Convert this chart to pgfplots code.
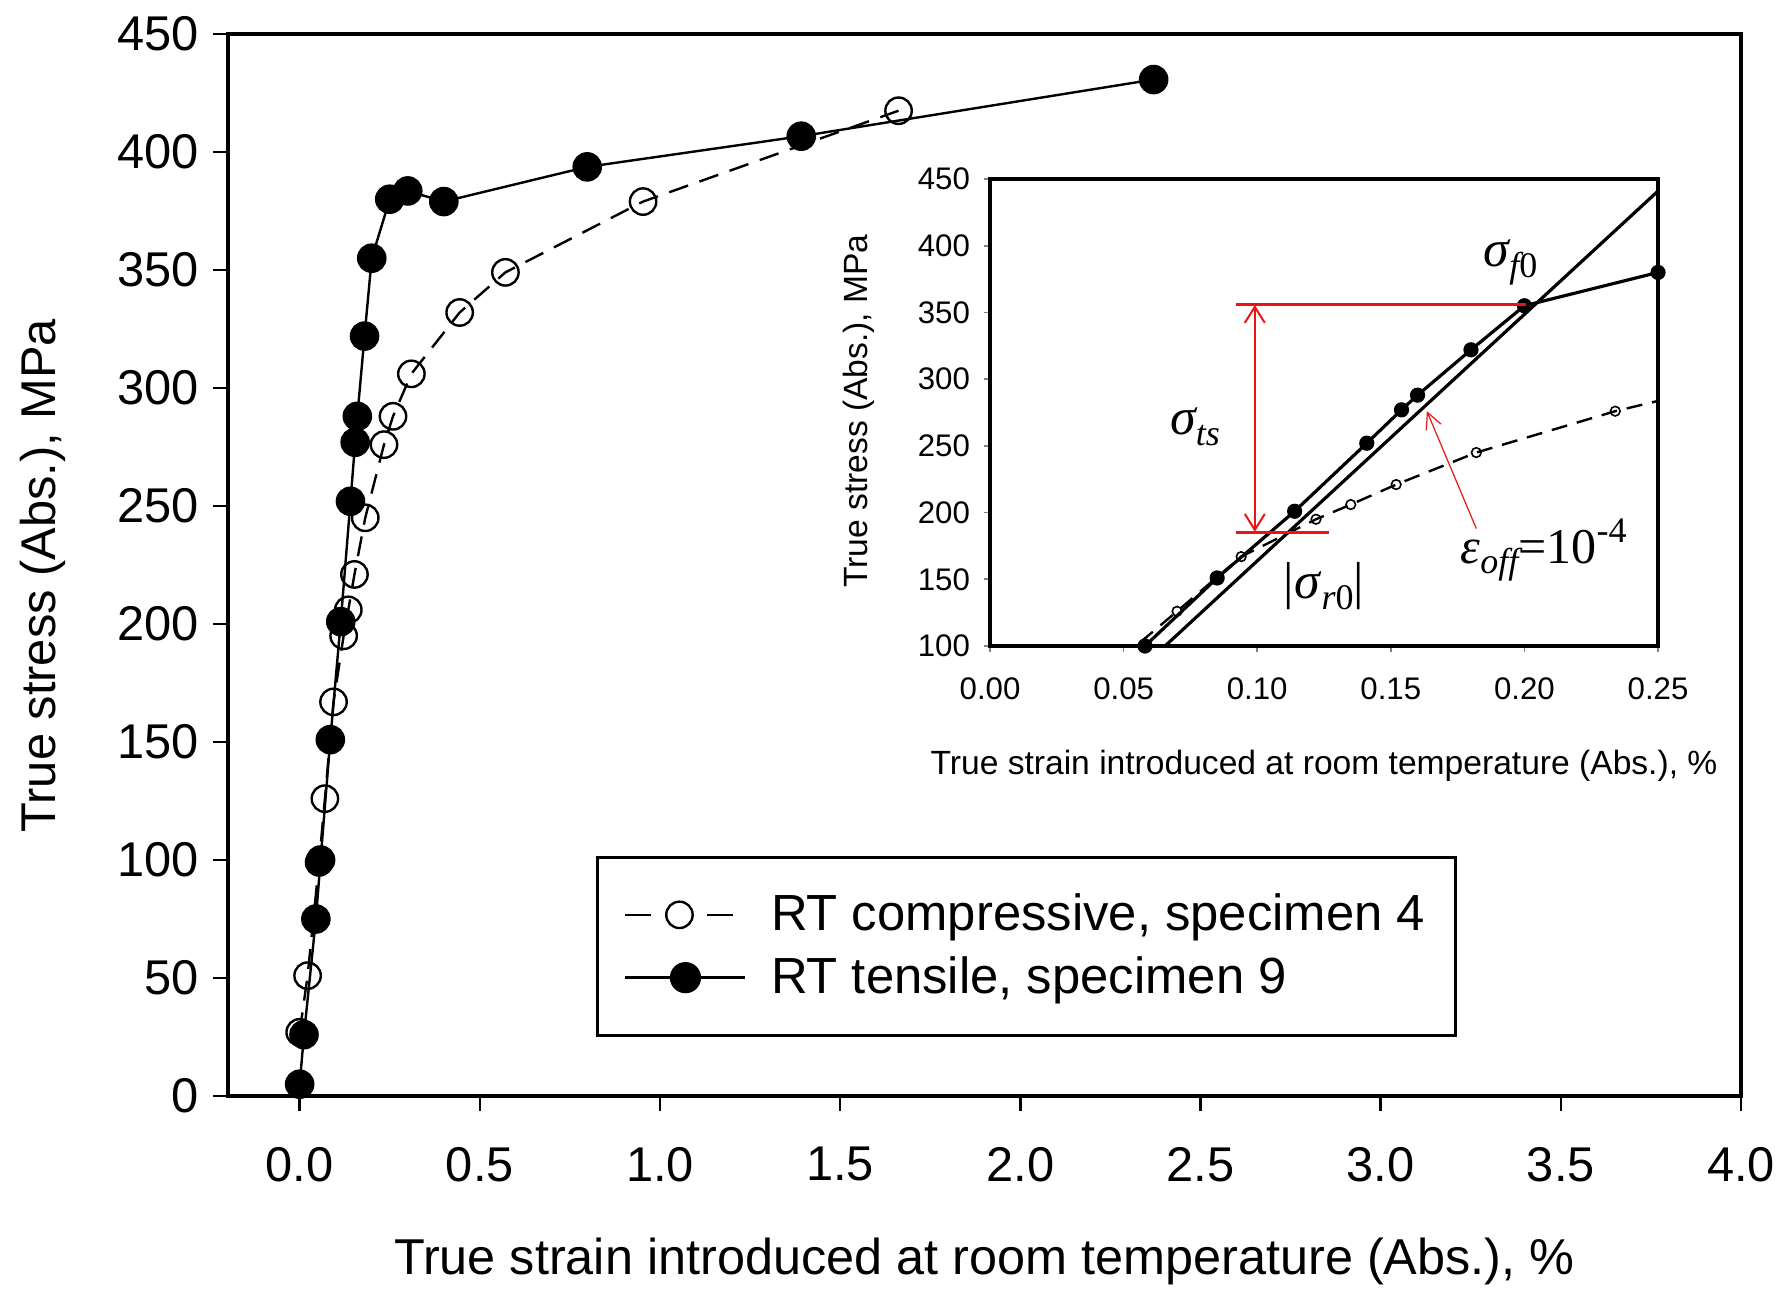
\documentclass[border=0pt]{standalone}
\usepackage{pgfplots}
\usepackage{pgfplotstable}
\pgfplotsset{compat=1.18}
\usepackage{fontspec}
\setmainfont{Liberation Sans}
\newfontfamily\serifit{Liberation Serif}
\usetikzlibrary{arrows.meta}

\definecolor{annred}{RGB}{235,20,20}

% RT compressive, specimen 4: strain (%) vs |stress| (MPa)
\pgfplotstableread{
x y
0.000 27
0.022 51
0.054 99
0.070 126
0.094 167
0.122 195
0.135 206
0.152 221
0.182 245
0.234 276
0.259 288
0.310 306
0.444 332
0.571 349
0.953 379
1.662 417.5
}\compdata

% RT tensile, specimen 9
\pgfplotstableread{
x y
0.000 5
0.012 26
0.045 75
0.058 100
0.085 151
0.114 201
0.141 252
0.154 277
0.160 288
0.180 322
0.200 355
0.250 380
0.300 383.5
0.400 379
0.798 393.7
1.392 406.7
2.370 430.7
}\tensdata

\begin{document}
\begin{tikzpicture}
\useasboundingbox (0,0) rectangle (446pt,322pt);

% ---------------- main axis ----------------
\begin{axis}[
  at={(56.9pt,48pt)}, anchor=south west,
  width=378.35pt, height=265.5pt, scale only axis,
  xmin=-0.2, xmax=4.0, ymin=0, ymax=450,
  xtick={0,0.5,1,1.5,2,2.5,3,3.5,4},
  ytick={0,50,100,150,200,250,300,350,400,450},
  tick pos=left, tick align=outside,
  major tick length=3.75pt,
  every tick/.style={black, line width=0.6pt},
  axis line style={line width=1pt},
  /pgf/number format/assume math mode=true,
  x tick label style={/pgf/number format/fixed, /pgf/number format/fixed zerofill,
    /pgf/number format/precision=1, yshift=-5.5pt},
  ticklabel style={font=\fontsize{12.2}{14}\selectfont},
  xlabel={True strain introduced at room temperature (Abs.), \%},
  ylabel={True stress (Abs.), MPa},
  xlabel style={font=\fontsize{12.6}{14}\selectfont, at={(axis description cs:0.5,-0.1685)}, anchor=base},
  ylabel style={font=\fontsize{12.2}{14}\selectfont, at={(axis description cs:-0.114,0.49)}, anchor=base},
  clip=false,
  legend cell align=left,
  legend style={at={(0.2434,0.0556)}, anchor=south west, draw=black,
    line width=0.75pt, inner xsep=6.7pt, inner ysep=7.1pt,
    nodes={inner xsep=1pt}, column sep=5.1pt,
    font=\fontsize{12.7}{15}\selectfont, row sep=1pt},
]
\addplot[black, line width=0.6pt, dash pattern=on 5pt off 3pt,
  mark=o, mark size=3.3pt, mark options={solid, line width=0.6pt},
  legend image code/.code={
    \draw[black, solid, line width=0.6pt] (0pt,0pt)--(6.5pt,0pt) (20.5pt,0pt)--(27pt,0pt);
    \draw[black, solid, line width=0.6pt] (13.5pt,0pt) circle[radius=3.3pt];}]
  table {\compdata};
\addlegendentry{RT compressive, specimen 4}
\addplot[black, line width=0.6pt, mark=*, mark size=3.4pt,
  mark options={solid, fill=black},
  legend image code/.code={
    \draw[black, solid, line width=0.6pt] (0pt,0pt)--(30pt,0pt);
    \fill[black] (15pt,0pt) circle[radius=3.6pt];}]
  table {\tensdata};
\addlegendentry{RT tensile, specimen 9}
\end{axis}

% ---------------- inset: elastic region ----------------
\begin{axis}[
  at={(247.5pt,160.5pt)}, anchor=south west,
  width=167pt, height=116.75pt, scale only axis,
  xmin=0, xmax=0.25, ymin=100, ymax=450,
  xtick={0,0.05,0.1,0.15,0.2,0.25},
  ytick={100,150,200,250,300,350,400,450},
  tick pos=left, tick align=outside,
  major tick length=1.5pt,
  every tick/.style={gray, line width=0.4pt},
  axis line style={line width=1pt},
  axis background/.style={fill=white},
  /pgf/number format/assume math mode=true,
  x tick label style={/pgf/number format/fixed, /pgf/number format/fixed zerofill,
    /pgf/number format/precision=2, yshift=-3pt},
  ticklabel style={font=\fontsize{7.8}{9}\selectfont},
  xlabel={True strain introduced at room temperature (Abs.), \%},
  ylabel={True stress (Abs.), MPa},
  label style={font=\fontsize{8.4}{10}\selectfont},
  xlabel style={at={(axis description cs:0.5,-0.2762)}, anchor=base},
  ylabel style={at={(axis description cs:-0.1841,0.503)}, anchor=base},
  clip mode=individual,
]
% curves (clipped to the frame)
\addplot[black, line width=0.6pt, dash pattern=on 4pt off 2.5pt, no markers] table {\compdata};
\addplot[black, line width=0.8pt, no markers] table {\tensdata};
% data points inside the window
\addplot[only marks, mark=o, mark size=1.2pt, mark options={black, line width=0.4pt},
  restrict x to domain=0:0.251, restrict y to domain=98:451] table {\compdata};
\addplot[only marks, mark=*, mark size=1.7pt, mark options={black, fill=black},
  restrict x to domain=0:0.251, restrict y to domain=98:451] table {\tensdata};
% 0.01 % offset line
\addplot[black, line width=0.8pt, no markers] coordinates {(0.0655,100) (0.25,441)};
% red construction lines
\addplot[annred, line width=0.9pt, no markers] coordinates {(0.0922,356) (0.2005,356)};
\addplot[annred, line width=0.9pt, no markers] coordinates {(0.0922,185.2) (0.1267,185.2)};
\addplot[annred, line width=0.5pt, no markers, {Straight Barb[length=4pt,width=5pt]}-{Straight Barb[length=4pt,width=5pt]}]
  coordinates {(0.0991,185.6) (0.0991,355.6)};
\addplot[annred, line width=0.3pt, no markers, -{Straight Barb[length=4pt,width=4pt]}]
  coordinates {(0.182,188) (0.1635,276)};
% labels
\node at (axis cs:0.0767,264.4) {\serifit\fontsize{13}{15}\selectfont\itshape σ\raisebox{-0.45ex}{\fontsize{9}{10}\selectfont ts}};
\node at (axis cs:0.1948,387.7) {\serifit\fontsize{13}{15}\selectfont\itshape σ\raisebox{-0.45ex}{\fontsize{9}{10}\selectfont f\upshape 0}};
\node at (axis cs:0.125,144.8) {\serifit\fontsize{13}{15}\selectfont |\textit{σ}\raisebox{-0.45ex}{\fontsize{9}{10}\selectfont\textit{r}0}|};
\node at (axis cs:0.2072,172) {\serifit\fontsize{12.5}{15}\selectfont\textit{ε}\raisebox{-0.45ex}{\fontsize{9}{10}\selectfont\itshape off}=10\raisebox{0.9ex}{\fontsize{9}{10}\selectfont -4}};
\end{axis}
\end{tikzpicture}
\end{document}
